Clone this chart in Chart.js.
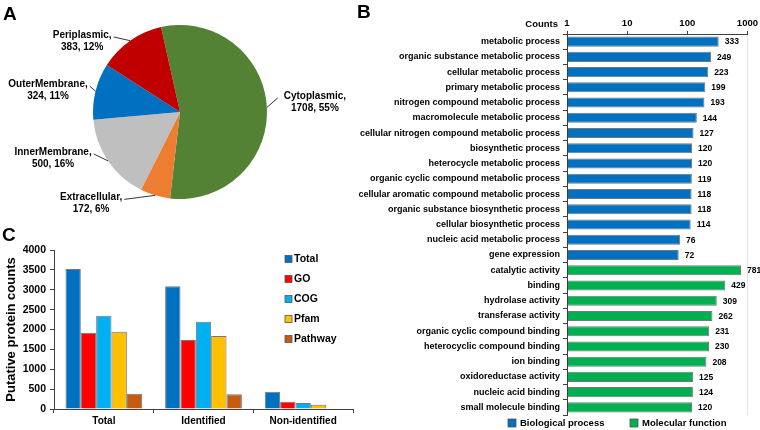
<!DOCTYPE html>
<html>
<head>
<meta charset="utf-8">
<script src="https://cdn.jsdelivr.net/npm/chart.js@4.4.1/dist/chart.umd.min.js"></script>
<style>
  body { margin: 0; background: #fff; }
  #wrap { position: relative; width: 760px; height: 430px; overflow: hidden; font-family: 'Liberation Sans', Arial, sans-serif; }
  canvas { position: absolute; }
  .panel { position: absolute; font-weight: bold; font-size: 19px; line-height: 19px; color: #000; }
</style>
</head>
<body>
<div id="wrap">
  <canvas id="chartA" width="380" height="215" style="left:0;top:0"></canvas>
  <canvas id="chartC" width="380" height="215" style="left:0;top:215px"></canvas>
  <canvas id="chartB" width="430" height="430" style="left:330px;top:0"></canvas>
  <div class="panel" style="left:3px;top:4px">A</div>
  <div class="panel" style="left:357px;top:2px">B</div>
  <div class="panel" style="left:2px;top:225px">C</div>
</div>
<script>
const FONT = "'Liberation Sans', Arial, sans-serif";

// A: subcellular localisation
const locNames = ['Cytoplasmic', 'Extracellular', 'InnerMembrane', 'OuterMembrane', 'Periplasmic'];
const locCounts = [1708, 172, 500, 324, 383];
const locPercents = [55, 6, 16, 11, 12];
const locColors = ['#548235', '#ED7D31', '#BFBFBF', '#0070C0', '#C00000'];

// B: GO terms
const bpTerms = ['metabolic process', 'organic substance metabolic process', 'cellular metabolic process',
  'primary metabolic process', 'nitrogen compound metabolic process', 'macromolecule metabolic process',
  'cellular nitrogen compound metabolic process', 'biosynthetic process', 'heterocycle metabolic process',
  'organic cyclic compound metabolic process', 'cellular aromatic compound metabolic process',
  'organic substance biosynthetic process', 'cellular biosynthetic process', 'nucleic acid metabolic process',
  'gene expression'];
const bpCounts = [333, 249, 223, 199, 193, 144, 127, 120, 120, 119, 118, 118, 114, 76, 72];
const mfTerms = ['catalytic activity', 'binding', 'hydrolase activity', 'transferase activity',
  'organic cyclic compound binding', 'heterocyclic compound binding', 'ion binding',
  'oxidoreductase activity', 'nucleic acid binding', 'small molecule binding'];
const mfCounts = [781, 429, 309, 262, 231, 230, 208, 125, 124, 120];
const countTicks = [1, 10, 100, 1000];

// C: annotation counts
const groups = ['Total', 'Identified', 'Non-identified'];
const dbNames = ['Total', 'GO', 'COG', 'Pfam', 'Pathway'];
const dbColors = ['#0070C0', '#FF0000', '#00B0F0', '#FFC000', '#C55A11'];
const totalCounts = [3522, 3087, 435];
const goCounts = [1920, 1736, 184];
const cogCounts = [2348, 2197, 151];
const pfamCounts = [1945, 1836, 109];
const pathwayCounts = [385, 370, 15];

// ---------- A ----------
const pieLabelOffsets = [[48, -11.5], [-64, 2], [-55, -9], [-47.5, -7], [-48, -5.7]];

const pieLabels = {
  id: 'pieLabels',
  afterDraw(chart) {
    const ctx = chart.ctx;
    const meta = chart.getDatasetMeta(0);
    ctx.save();
    ctx.font = 'bold 10px ' + FONT;
    ctx.fillStyle = '#000';
    ctx.strokeStyle = '#000';
    ctx.lineWidth = 0.8;
    ctx.textAlign = 'center';
    ctx.textBaseline = 'middle';
    meta.data.forEach((arc, i) => {
      const p = arc.getProps(['x', 'y', 'startAngle', 'endAngle', 'outerRadius']);
      const m = (p.startAngle + p.endAngle) / 2;
      const ex = p.x + p.outerRadius * Math.cos(m);
      const ey = p.y + p.outerRadius * Math.sin(m);
      const off = pieLabelOffsets[i];
      const tx = ex + off[0], ty = ey + off[1];
      const l1 = locNames[i] + ',';
      const l2 = locCounts[i] + ', ' + locPercents[i] + '%';
      const w = ctx.measureText(l1).width;
      const lx = off[0] < 0 ? tx + w / 2 + 2 : tx - w / 2 - 6;
      ctx.beginPath();
      ctx.moveTo(ex, ey);
      ctx.lineTo(lx, ty + 2);
      ctx.stroke();
      ctx.fillText(l1, tx, ty);
      ctx.fillText(l2, tx, ty + 12);
    });
    ctx.restore();
  }
};

new Chart(document.getElementById('chartA'), {
  type: 'pie',
  data: {
    labels: locNames,
    datasets: [{ data: locCounts, backgroundColor: locColors, borderWidth: 0 }]
  },
  options: {
    responsive: false,
    animation: false,
    rotation: -12.6,
    layout: { padding: { left: 93, right: 113, top: 25, bottom: 16 } },
    plugins: { legend: { display: false }, tooltip: { enabled: false } }
  },
  plugins: [pieLabels]
});

// ---------- B ----------
const goLabels = bpTerms.concat(mfTerms);
const bpData = bpCounts.concat(mfTerms.map(() => null));
const mfData = bpTerms.map(() => null).concat(mfCounts);

const barValues = {
  id: 'barValues',
  afterDraw(chart) {
    const ctx = chart.ctx;
    ctx.save();
    ctx.font = 'bold 8.5px ' + FONT;
    ctx.fillStyle = '#000';
    ctx.textAlign = 'left';
    ctx.textBaseline = 'middle';
    chart.data.datasets.forEach((ds, di) => {
      chart.getDatasetMeta(di).data.forEach((bar, i) => {
        if (ds.data[i] == null) return;
        ctx.fillText(String(ds.data[i]), bar.x + 6, bar.y + 0.5);
      });
    });
    // axis caption
    ctx.font = 'bold 9.5px ' + FONT;
    ctx.textAlign = 'right';
    ctx.fillText('Counts', chart.chartArea.left - 9, chart.chartArea.top - 10);
    // legend
    const items = [[178, 0], [300, 1]];
    ctx.textAlign = 'left';
    items.forEach(([x, di]) => {
      const ds = chart.data.datasets[di];
      ctx.fillStyle = ds.backgroundColor;
      ctx.fillRect(x, 419, 8, 8);
      ctx.strokeStyle = '#555';
      ctx.lineWidth = 0.8;
      ctx.strokeRect(x, 419, 8, 8);
      ctx.fillStyle = '#000';
      ctx.fillText(ds.label, x + 12, 423.5);
    });
    ctx.restore();
  }
};

new Chart(document.getElementById('chartB'), {
  type: 'bar',
  data: {
    labels: goLabels,
    datasets: [
      { label: 'Biological process', data: bpData, backgroundColor: '#0070C0', borderColor: 'rgba(60,60,60,0.7)',
        borderWidth: 1, borderSkipped: false, grouped: false, barPercentage: 0.66, categoryPercentage: 1 },
      { label: 'Molecular function', data: mfData, backgroundColor: '#00B050', borderColor: 'rgba(60,60,60,0.7)',
        borderWidth: 1, borderSkipped: false, grouped: false, barPercentage: 0.66, categoryPercentage: 1 }
    ]
  },
  options: {
    indexAxis: 'y',
    responsive: false,
    animation: false,
    layout: { padding: { left: 0, right: 12, top: 0, bottom: 15 } },
    plugins: { legend: { display: false }, tooltip: { enabled: false } },
    scales: {
      x: {
        type: 'logarithmic', position: 'top', min: 1, max: 1000,
        afterBuildTicks: s => { s.ticks = countTicks.map(v => ({ value: v })); },
        afterFit: s => { s.height = 34; },
        ticks: { font: { family: FONT, size: 9.5, weight: 'bold' }, color: '#000', padding: 2, callback: v => String(v) },
        grid: { color: c => (c.tick && c.tick.value === 1000 ? '#e3e3e3' : 'rgba(0,0,0,0)'),
                tickColor: '#404040', tickLength: 3 },
        border: { display: true, color: '#404040', width: 1 }
      },
      y: {
        afterFit: s => { s.width = 237; },
        ticks: { font: { family: FONT, size: 9, weight: 'bold' }, color: '#000', padding: 3, autoSkip: false },
        grid: { offset: true, drawOnChartArea: false, tickLength: 4, tickColor: '#404040' },
        border: { color: '#404040', width: 1 }
      }
    }
  },
  plugins: [barValues]
});

// ---------- C ----------
const cSeries = [totalCounts, goCounts, cogCounts, pfamCounts, pathwayCounts];

const legendC = {
  id: 'legendC',
  afterDraw(chart) {
    const ctx = chart.ctx;
    ctx.save();
    ctx.font = 'bold 10.5px ' + FONT;
    ctx.textAlign = 'left';
    ctx.textBaseline = 'middle';
    chart.data.datasets.forEach((ds, i) => {
      const y = 44 + i * 20;
      ctx.fillStyle = ds.backgroundColor;
      ctx.fillRect(285, y - 3.5, 7, 7);
      ctx.strokeStyle = '#555';
      ctx.lineWidth = 0.8;
      ctx.strokeRect(285, y - 3.5, 7, 7);
      ctx.fillStyle = '#000';
      ctx.fillText(ds.label, 294, y + 0.5);
    });
    ctx.restore();
  }
};

new Chart(document.getElementById('chartC'), {
  type: 'bar',
  data: {
    labels: groups,
    datasets: dbNames.map((name, i) => ({
      label: name, data: cSeries[i], backgroundColor: dbColors[i],
      borderColor: 'rgba(60,60,60,0.7)', borderWidth: 1,
      barPercentage: 1, categoryPercentage: 0.77
    }))
  },
  options: {
    responsive: false,
    animation: false,
    layout: { padding: { left: 0, right: 27, top: 35, bottom: 0 } },
    plugins: { legend: { display: false }, tooltip: { enabled: false } },
    scales: {
      x: {
        afterFit: s => { s.height = 21; },
        ticks: { font: { family: FONT, size: 10, weight: 'bold' }, color: '#000', padding: 2 },
        grid: { offset: true, drawOnChartArea: false, tickLength: 4, tickColor: '#404040' },
        border: { color: '#404040', width: 1 }
      },
      y: {
        min: 0, max: 4000,
        afterFit: s => { s.width = 54; },
        ticks: { stepSize: 500, font: { family: FONT, size: 10.5, weight: 'bold' }, color: '#000', padding: 4,
                 callback: v => String(v) },
        grid: { drawOnChartArea: false, tickLength: 4, tickColor: '#404040' },
        border: { color: '#404040', width: 1 },
        title: { display: true, text: 'Putative protein counts', color: '#000',
                 font: { family: FONT, size: 13, weight: 'bold' }, padding: { top: 4, bottom: 0 } }
      }
    }
  },
  plugins: [legendC]
});
</script>
</body>
</html>
